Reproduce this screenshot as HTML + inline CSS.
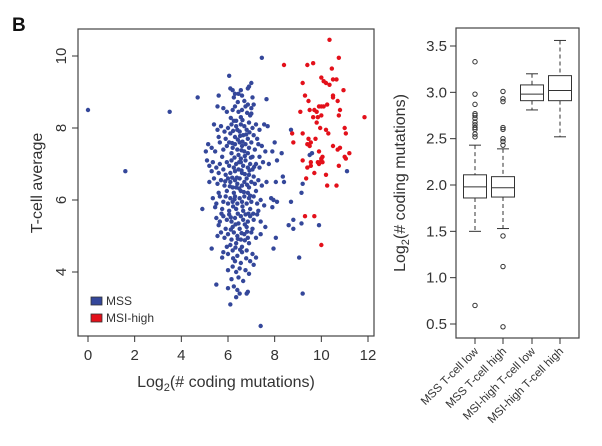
<!DOCTYPE html>
<html><head><meta charset="utf-8"><style>
body{margin:0;background:#fff;}
svg{display:block;font-family:"Liberation Sans",Arial,sans-serif;}
</style></head><body>
<svg id="fig" width="602" height="446" viewBox="0 0 602 446">
<text x="12" y="31" font-size="19" font-weight="bold" fill="#111">B</text>
<g id="scatter"></g>
<g id="box"></g>
</svg>
<script>
const mssPts = [[0,8.5],[1.6,6.8],[3.5,8.45],[4.7,8.85],[4.9,5.75],[7.45,9.95],[7.4,2.5],[6.1,3.1],[5.5,3.65],[9.2,3.4],[9.05,4.4],[8.6,5.3],[8.8,5.2],[8.8,5.45],[9.15,5.35],[9.9,5.3],[8.7,5.95],[9.15,6.2],[9.2,6.45],[8.7,7.95],[9.5,7.25],[9.6,7.3],[11.1,6.8],[8.05,4.95],[8.05,6.5],[8.35,6.65],[8.4,6.5],[8.3,7.3],[8,7.6],[8.1,7.1],[7.9,7.35],[7.95,6.0],[7.85,6.05],[7.9,5.8],[8.1,5.95],[7.6,5.25],[7.95,4.65],[7.65,8.8],[7.7,8.05],
[6.05,9.45],[6.1,9.1],[6.2,9.05],[6.3,8.95],[6.55,9.05],[6.6,8.9],[6.9,9.15],[7.0,9.25],[6.85,9.1],[6.25,8.85],[5.6,8.9],[5.55,8.6],[6.7,8.75],[7.05,8.85],[6.45,8.95],
[5.8,8.55],[6.3,8.6],[6.45,8.45],[6.75,8.6],[6.85,8.65],[7.0,8.55],[7.1,8.65],[6.6,8.5],[6.2,8.5],[5.95,8.45],[6.95,8.35],[7.0,8.4],[6.55,8.3],[6.35,8.2],
[5.4,8.1],[5.55,7.95],[5.7,8.05],[5.85,7.9],[6.0,8.0],[6.15,8.1],[6.25,8.2],[6.35,8.05],[6.4,7.95],[6.55,8.1],[6.7,8.05],[6.8,7.95],[6.9,8.15],[7.05,8.0],[7.2,8.1],[7.35,7.95],[7.55,8.1],[6.1,7.85],[6.5,7.9],[6.65,7.8],[7.1,7.8],[5.6,7.75],[5.9,7.7],[6.3,7.75],[6.85,7.7],[7.25,7.7],
[5.15,7.55],[5.3,7.45],[5.45,7.35],[5.65,7.6],[5.8,7.4],[5.95,7.5],[6.05,7.6],[6.2,7.45],[6.3,7.55],[6.4,7.4],[6.5,7.6],[6.6,7.5],[6.7,7.35],[6.75,7.55],[6.9,7.45],[7.0,7.6],[7.15,7.4],[7.3,7.55],[7.45,7.5],[7.6,7.35],[6.15,7.3],[6.45,7.25],[6.85,7.3],[7.05,7.2],[6.55,7.15],[5.75,7.2],[5.05,7.35],[7.35,7.2],
[5.1,7.1],[5.2,6.95],[5.35,7.05],[5.5,6.9],[5.65,7.0],[5.8,6.85],[5.95,7.05],[6.05,6.95],[6.15,7.1],[6.25,6.9],[6.35,7.0],[6.45,6.85],[6.55,7.05],[6.65,6.95],[6.75,7.1],[6.85,6.9],[6.95,7.0],[7.05,6.85],[7.2,7.0],[7.35,6.9],[7.5,7.05],[7.75,7.0],[6.3,6.8],[6.6,6.75],[6.9,6.7],[5.9,6.7],[6.1,6.75],[7.1,6.65],[5.3,6.8],[5.6,6.75],
[5.2,6.5],[5.4,6.6],[5.55,6.45],[5.7,6.55],[5.85,6.4],[6.0,6.6],[6.1,6.5],[6.2,6.35],[6.3,6.55],[6.4,6.45],[6.5,6.6],[6.6,6.4],[6.7,6.5],[6.8,6.6],[6.9,6.35],[7.0,6.5],[7.15,6.45],[7.3,6.55],[7.45,6.4],[7.65,6.5],[5.95,6.25],[6.25,6.2],[6.55,6.25],[6.85,6.2],[7.2,6.25],[5.6,6.2],
[5.35,6.05],[5.5,5.9],[5.65,6.1],[5.8,5.95],[5.9,6.1],[6.0,5.9],[6.1,6.05],[6.2,5.95],[6.3,6.1],[6.4,5.9],[6.5,6.05],[6.6,5.95],[6.7,6.1],[6.8,5.9],[6.9,6.05],[7.0,5.95],[7.1,6.1],[7.25,5.9],[7.4,6.0],[7.55,5.85],[5.75,5.75],[6.05,5.7],[6.35,5.75],[6.65,5.7],[6.95,5.75],[7.3,5.7],[5.45,5.8],
[5.5,5.5],[5.65,5.4],[5.8,5.55],[5.95,5.45],[6.05,5.6],[6.15,5.4],[6.3,5.5],[6.45,5.35],[6.55,5.55],[6.65,5.45],[6.75,5.6],[6.85,5.4],[6.95,5.55],[7.1,5.45],[7.25,5.6],[7.4,5.4],[6.2,5.25],[6.5,5.2],[6.8,5.25],[7.05,5.2],[5.9,5.2],[5.6,5.3],
[5.55,5.0],[5.7,5.1],[5.85,4.95],[6.0,5.05],[6.15,4.9],[6.25,5.1],[6.4,5.0],[6.55,4.9],[6.7,5.05],[6.85,4.95],[7.0,5.1],[7.2,4.95],[7.4,5.05],[6.1,4.75],[6.35,4.8],[6.6,4.7],[6.9,4.8],[5.95,4.7],
[5.3,4.65],[5.8,4.55],[6.0,4.5],[6.2,4.6],[6.4,4.45],[6.6,4.55],[6.8,4.6],[7.05,4.5],[7.2,4.4],[6.3,4.3],[6.55,4.25],[6.95,4.3],[5.75,4.4],
[6.0,4.05],[6.2,4.15],[6.35,4.0],[6.5,4.1],[6.75,4.05],[6.9,3.95],[7.1,4.2],[6.15,3.8],[6.45,3.85],[6.65,3.75],[6.25,3.6],[6.4,3.5],[6.5,3.4],[6.85,3.45],[6.8,3.4],[6.0,3.55],[6.35,3.3],
[6.22,7.92],[6.42,7.68],[6.62,7.62],[6.78,7.82],[6.48,7.05],[6.28,7.18],[6.72,7.22],[6.38,6.62],[6.58,6.82],[6.18,6.62],[6.82,6.42],[6.48,6.32],[6.28,6.02],[6.68,6.22],[6.42,5.62],[6.22,5.82],[6.62,5.82],[6.88,5.62],[6.32,5.32],[6.72,5.32],[6.12,5.18],[6.42,4.92],[6.82,5.12],[6.52,4.62],[6.22,4.38],[6.78,4.38],[6.92,7.88],[6.12,8.28],[6.62,8.22],[6.42,8.72],[6.82,8.42],[6.18,7.58],[6.58,7.38],[6.98,7.18],[6.08,6.38],[6.92,6.82],[5.88,6.52],[7.12,6.92],[7.08,5.62],[5.72,5.62],[6.52,7.78],[6.72,6.72],[6.35,6.35],[6.95,6.12],[6.12,5.52],[6.58,5.08],[6.32,4.68],[6.72,4.88]];
const msiPts = [[8.4,9.75],[9.2,9.25],[9.4,9.75],[9.65,9.8],[10.35,10.45],[10.75,9.95],[10.45,9.65],[10.0,9.4],[10.1,9.3],[10.2,9.25],[10.35,9.2],[10.5,9.35],[10.65,9.35],[10.95,9.05],[10.5,8.9],[10.5,8.85],[9.3,8.9],[9.45,8.75],[9.5,8.5],[9.7,8.5],[9.8,8.45],[9.9,8.6],[10.0,8.6],[10.1,8.6],[10.25,8.65],[10.7,8.75],[10.8,8.5],[9.1,8.45],[9.65,8.3],[9.85,8.3],[10.0,8.35],[10.75,8.35],[11.85,8.3],[9.8,8.15],[9.95,8.0],[10.2,7.95],[10.3,7.85],[11.0,8.0],[11.05,7.85],[8.75,7.85],[9.2,7.85],[9.45,7.7],[9.55,7.6],[9.5,7.5],[9.4,7.55],[9.75,7.7],[8.8,7.6],[10.5,7.5],[10.7,7.4],[10.8,7.45],[11.2,7.3],[9.9,7.35],[10.05,7.2],[10.0,7.1],[10.05,7.05],[9.9,7.0],[9.85,7.05],[9.55,7.05],[11.0,7.2],[11.05,7.15],[9.2,7.1],[9.4,6.9],[9.7,6.75],[10.2,6.7],[9.35,6.6],[10.25,6.4],[10.65,6.4],[10.75,6.95],[9.3,5.55],[9.7,5.55],[10.0,4.75],[9.55,6.95],[10.0,7.15]];
const xTicks = [0,2,4,6,8,10,12];
const yTicks = [4,6,8,10];
const boxCats = ["MSS T-cell low","MSS T-cell high","MSI-high T-cell low","MSI-high T-cell high"];
const boxLowW = [1.5,1.53,2.81,2.52];
const boxQ1 = [1.86,1.87,2.91,2.91];
const boxMed = [1.98,1.97,2.98,3.02];
const boxQ3 = [2.11,2.09,3.08,3.18];
const boxHighW = [2.43,2.39,3.2,3.56];
const boxOutliers = [[3.33,2.98,2.87,2.77,2.75,2.72,2.68,2.65,2.62,2.6,2.55,2.52,0.7],[3.01,2.93,2.9,2.62,2.6,2.5,2.47,2.43,1.45,1.12,0.47],[],[]];
const bTicks = ["0.5","1.0","1.5","2.0","2.5","3.0","3.5"];

const NS="http://www.w3.org/2000/svg";
function mk(parent,tag,attrs,text){const e=document.createElementNS(NS,tag);for(const k in attrs)e.setAttribute(k,attrs[k]);if(text!==undefined)e.textContent=text;parent.appendChild(e);return e;}

const sc=document.getElementById('scatter');
const sx=v=>88+v*(368-88)/12, sy=v=>56+(10-v)*(272-56)/6;
const fr=mk(sc,'rect',{x:78,y:29,width:296,height:307,fill:'none',stroke:'#444','stroke-width':1.2});


xTicks.forEach(t=>{
  const l=mk(sc,'line',{x1:sx(t),x2:sx(t),y1:336,y2:342,stroke:'#333'});
  
  
  const tx=mk(sc,'text',{x:sx(t),y:360,'text-anchor':'middle','font-size':15,fill:'#333'},String(t));
  
  
});
yTicks.forEach(t=>{
  const l=mk(sc,'line',{x1:72,x2:78,y1:sy(t),y2:sy(t),stroke:'#333'});
  
  
  const tx=mk(sc,'text',{x:0,y:0,'text-anchor':'middle','font-size':15,fill:'#333',transform:`translate(66,${sy(t)}) rotate(-90)`},String(t));
  
  
});
const xt=mk(sc,'text',{x:226,y:387,'text-anchor':'middle','font-size':16,fill:'#333'});
xt.innerHTML='Log<tspan font-size="11" dy="4">2</tspan><tspan dy="-4">(# coding mutations)</tspan>';


const yt=mk(sc,'text',{x:0,y:0,'text-anchor':'middle','font-size':16,fill:'#333',transform:'translate(42,183) rotate(-90)'},'T-cell average');


mssPts.forEach(p=>{
  const c=mk(sc,'circle',{cx:sx(p[0]),cy:sy(p[1]),r:2.2,fill:'#34479a'});
  
  
});
msiPts.forEach(p=>{
  const c=mk(sc,'circle',{cx:sx(p[0]),cy:sy(p[1]),r:2.2,fill:'#e3101a'});
  
  
});
[['MSS','#34479a',302,'legend-mss'],['MSI-high','#e3101a',319,'legend-msi-high']].forEach(L=>{
  const g=mk(sc,'g',{});
  
  
  mk(g,'rect',{x:91,y:L[2]-5,width:11,height:8,fill:L[1],stroke:'#333','stroke-width':0.8});
  mk(g,'text',{x:106,y:L[2]+3,'font-size':12,fill:'#333'},L[0]);
});

const bx=document.getElementById('box');
const by=v=>46+(3.5-v)*(324-46)/3;
const cx=[475,503,532,560];
const bf=mk(bx,'rect',{x:456,y:28,width:123,height:310,fill:'none',stroke:'#444','stroke-width':1.2});


bTicks.forEach(t=>{
  const v=parseFloat(t);
  const l=mk(bx,'line',{x1:450,x2:456,y1:by(v),y2:by(v),stroke:'#333'});
  
  
  const tx=mk(bx,'text',{x:447,y:by(v)+5,'text-anchor':'end','font-size':15,fill:'#333'},t);
  
  
});
const byt=mk(bx,'text',{x:0,y:0,'text-anchor':'middle','font-size':16,fill:'#333',transform:'translate(405,183) rotate(-90)'});
byt.innerHTML='Log<tspan font-size="11" dy="4">2</tspan><tspan dy="-4">(# coding mutations)</tspan>';


boxCats.forEach((cat,i)=>{
  const x=cx[i], w=23;
  const g=mk(bx,'g',{fill:'none',stroke:'#333','stroke-width':1});
  
  
  mk(g,'line',{x1:x,x2:x,y1:by(boxHighW[i]),y2:by(boxQ3[i]),'stroke-dasharray':'4,3'});
  mk(g,'line',{x1:x,x2:x,y1:by(boxQ1[i]),y2:by(boxLowW[i]),'stroke-dasharray':'4,3'});
  mk(g,'line',{x1:x-6,x2:x+6,y1:by(boxHighW[i]),y2:by(boxHighW[i])});
  mk(g,'line',{x1:x-6,x2:x+6,y1:by(boxLowW[i]),y2:by(boxLowW[i])});
  mk(g,'rect',{x:x-w/2,y:by(boxQ3[i]),width:w,height:by(boxQ1[i])-by(boxQ3[i]),fill:'#fff'});
  mk(g,'line',{x1:x-w/2,x2:x+w/2,y1:by(boxMed[i]),y2:by(boxMed[i])});
  boxOutliers[i].forEach(o=>mk(g,'circle',{cx:x,cy:by(o),r:2.2}));
  const tk=mk(bx,'line',{x1:x,x2:x,y1:338,y2:344,stroke:'#333'});
  
  
  const lb=mk(bx,'text',{x:0,y:0,'text-anchor':'end','font-size':11.5,fill:'#333',transform:`translate(${x+4},${352}) rotate(-45)`},cat);
  
  
});
</script>
</body></html>
